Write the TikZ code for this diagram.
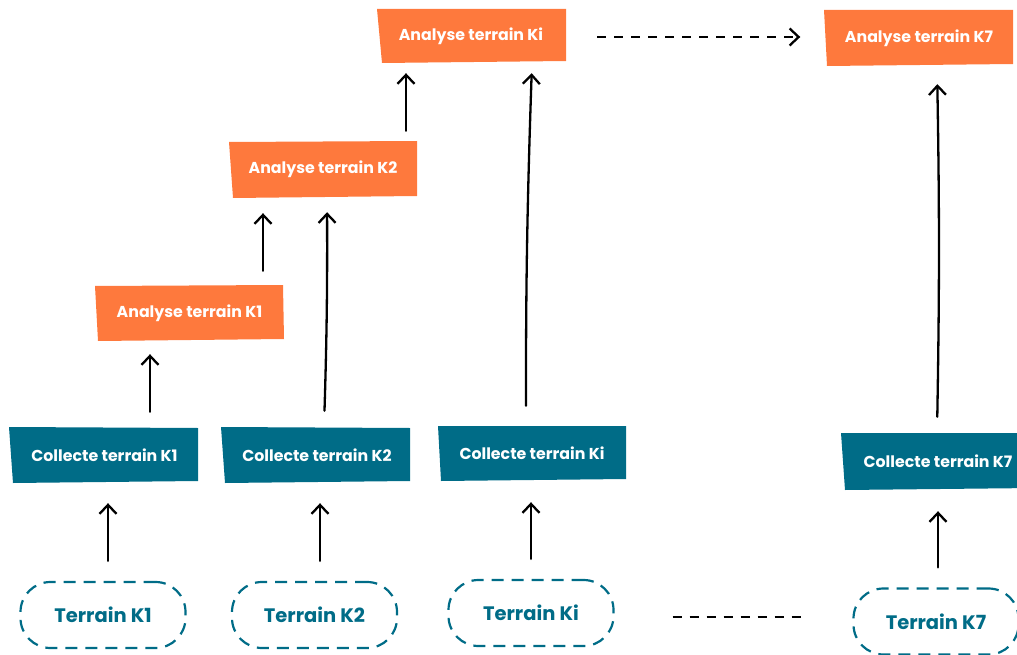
\documentclass[tikz,border=0pt]{standalone}
\usepackage{fontspec}
\setmainfont{Poppins}
\usetikzlibrary{arrows.meta,calc}
\definecolor{orng}{RGB}{254,121,61}
\definecolor{teal}{RGB}{0,108,135}
\tikzset{
  boxtext/.style={text=white,font=\bfseries\fontsize{15.8}{18}\selectfont,inner sep=0pt},
  terr/.style={draw=teal,line width=2.2pt,dash pattern=on 12pt off 8pt,rounded corners=30pt,
     minimum width=165pt,minimum height=66pt,text=teal,font=\bfseries\fontsize{19.5}{22}\selectfont},
  arr/.style={line width=2.3pt,line cap=round,-{Straight Barb[length=9pt,width=17pt,line width=2.3pt]}},
  dsh/.style={line width=2.3pt,dash pattern=on 9pt off 8pt}
}
\begin{document}
\begin{tikzpicture}[x=1pt,y=-1pt]
\useasboundingbox (0,0) rectangle (1017,655);
% box fills (slightly skewed)
\fill[orng] (95,286) -- (283,285) -- (284,339) -- (98,341) -- cycle;
\fill[orng] (229,142) -- (417,141) -- (417,196) -- (233,198) -- cycle;
\fill[orng] (377,9) -- (566,9) -- (566,61) -- (382,63) -- cycle;
\fill[orng] (824,10) -- (1013,10) -- (1013,64) -- (827,66) -- cycle;
\fill[teal] (9,427) -- (198,428) -- (198,481) -- (13,483) -- cycle;
\fill[teal] (221,427) -- (410,428) -- (410,481) -- (225,483) -- cycle;
\fill[teal] (438,426) -- (626,426) -- (626,479) -- (441,481) -- cycle;
\fill[teal] (841,433) -- (1035,433) -- (1035,488) -- (845,490) -- cycle;
% nodes
\node[boxtext,minimum width=189pt,minimum height=56pt] (aK1) at (189.5,313) {Analyse terrain K1};
\node[boxtext,minimum width=188pt,minimum height=57pt] (aK2) at (323,169.5) {Analyse terrain K2};
\node[boxtext,minimum width=188pt,minimum height=54pt] (aKi) at (471,36) {Analyse terrain Ki};
\node[boxtext,minimum width=189pt,minimum height=56pt] (aK7) at (919,38) {Analyse terrain K7};
\node[boxtext,minimum width=189pt,minimum height=56pt] (cK1) at (104.5,455) {Collecte terrain K1};
\node[boxtext,minimum width=189pt,minimum height=56pt] (cK2) at (317,455) {Collecte terrain K2};
\node[boxtext,minimum width=188pt,minimum height=55pt] (cKi) at (532,453.5) {Collecte terrain Ki};
\node[boxtext,minimum width=194pt,minimum height=57pt] (cK7) at (938,461.5) {Collecte terrain K7};
\node[terr] (tK1) at (103,615) {Terrain K1};
\node[terr] (tK2) at (314.5,615) {Terrain K2};
\node[terr] (tKi) at (531,613) {Terrain Ki};
\node[terr] (tK7) at (936,621.5) {Terrain K7};
% arrows
\draw[arr,shorten <=20pt,shorten >=20pt] ([xshift=5pt]tK1.north) -- ([xshift=3.5pt]cK1.south);
\draw[arr,shorten <=20pt,shorten >=20pt] ([xshift=5.5pt]tK2.north) -- ([xshift=3pt]cK2.south);
\draw[arr,shorten <=20pt,shorten >=21pt] ([xshift=0pt]tKi.north) -- ([xshift=-1pt]cKi.south);
\draw[arr,shorten <=20pt,shorten >=21pt] ([xshift=2pt]tK7.north) -- ([xshift=0pt]cK7.south);
\draw[arr,shorten <=15pt,shorten >=13pt] ([xshift=45.5pt]cK1.north) -- ([xshift=-39.5pt]aK1.south);
\draw[arr,shorten <=14pt,shorten >=15pt] ([xshift=73.5pt]aK1.north) -- ([xshift=-60pt]aK2.south);
\draw[arr,shorten <=16pt,shorten >=14pt] ([xshift=7pt]cK2.north) to[bend right=1] ([xshift=4pt]aK2.south);
\draw[arr,shorten <=10pt,shorten >=10pt] ([xshift=83pt]aK2.north) -- ([xshift=-65pt]aKi.south);
\draw[arr,shorten <=20pt,shorten >=10pt] ([xshift=-6pt]cKi.north) to[bend left=1] ([xshift=61pt]aKi.south);
\draw[arr,shorten <=16pt,shorten >=18pt] ([xshift=-1pt]cK7.north) to[bend right=1] ([xshift=18pt]aK7.south);
\draw[arr,dsh,line cap=butt,shorten <=32pt,shorten >=24pt] ([yshift=-1pt]aKi.east) -- ([yshift=1pt]aK7.west);
\draw[dsh,shorten <=58pt,shorten >=44pt] ([yshift=-4pt]tKi.east) -- ([yshift=4.5pt]tK7.west);
\end{tikzpicture}
\end{document}
